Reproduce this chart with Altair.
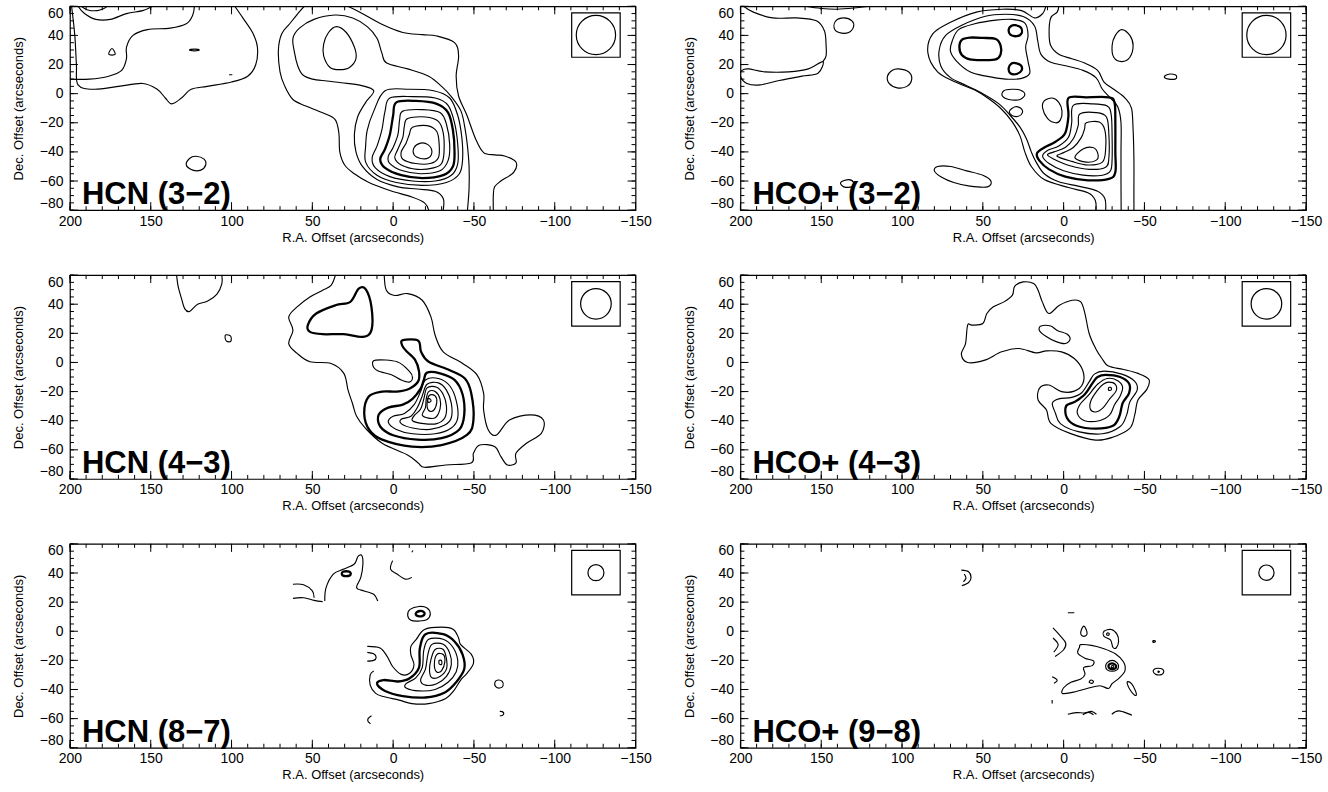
import altair as alt
import pandas as pd

# ---------------- axis ticks / labels ----------------
X_MAJOR = [200, 150, 100, 50, 0, -50, -100, -150]
X_MINOR = list(range(200, -151, -10))
Y_MAJOR = [60, 40, 20, 0, -20, -40, -60, -80]
Y_MINOR = list(range(60, -81, -5))

PANEL_NAMES = ["HCN (3−2)", "HCO+ (3−2)", "HCN (4−3)", "HCO+ (4−3)", "HCN (8−7)", "HCO+ (9−8)"]
BEAM_FWHM = [27, 27, 21, 21, 11, 10.5]          # arcsec
BEAM_CENTER = [-125.5, 40.25]                  # arcsec offsets
BEAM_BOX = [-110.5, -140.5, 25, 55.5]          # x1, x2, y1, y2 (arcsec)

# ---------------- HCN (3-2) contours (R.A., Dec. offsets) ----------------
HCN32_OPEN = {
    "a": [(199, 60), (197, 40), (196, 20), (195, 6), (185, 3), (170, 5), (155, 7), (146, 3), (141, -3), (137, -7),
          (131, -3), (125, 3), (115, 5), (100, 8), (90, 12), (85, 20), (84, 32), (87, 42), (93, 52), (98, 60)],
    "b": [(200, 10), (188, 10), (176, 12), (168, 16), (165, 24), (165, 32), (161, 40), (152, 44), (138, 45),
          (128, 48), (124, 54), (123, 60)],
    "c": [(195, 60), (191, 55), (184, 51), (175, 51), (165, 55), (155, 57), (149, 60)],
    "d": [(193, 60), (189, 57.5), (183, 57), (179, 58.5), (177, 60)],
    "dash": [(101.5, 13), (99.5, 13)],
    "e1": [(55, 60), (59, 55), (64, 48), (69, 41), (71, 30), (70, 15), (67, 5), (62, -4), (54, -8.5), (44, -13),
           (36, -17.6), (33.6, -27), (33, -40), (30, -49), (24, -55), (15, -61), (2, -66.5), (-11.6, -71),
           (-19.4, -75), (-22, -80)],
    "e2": [(28, 60), (20, 55.6), (7, 47.6), (-6, 42), (-18, 40.5), (-27, 39.6), (-38, 35), (-40.5, 26), (-39, 12),
           (-40.5, -1.6), (-45.7, -15), (-51, -31), (-56, -40.5), (-63, -42), (-69, -42.8), (-76, -47),
           (-74.6, -54), (-66.7, -60), (-62.8, -64), (-62, -70), (-62, -80)],
    "g": [(-31, -80), (-31, -72), (-26, -67), (-15, -65.5), (-3, -64), (10, -59), (19, -50), (23, -40), (24, -28),
          (22, -16), (17, -6), (12, 2), (20, 5.7), (32, 7.5), (41, 8.7), (50, 10), (56, 13), (59, 19), (61, 28),
          (62, 38), (58, 45), (49, 51), (36, 54), (25, 52), (16, 46), (10, 38), (7, 28), (4, 21), (-9, 17),
          (-22, 12), (-30, 5), (-36, -2), (-42, -12), (-44.5, -24), (-46, -36), (-47, -50), (-47, -65), (-46, -80)],
}
HCN32_CLOSED = {
    "tri": [(174, 31), (172, 27), (176, 27)],
    "tiny": [(126, 30), (123, 30.6), (120, 30), (123, 29.4)],
    "circ": [(122, -43), (117, -45), (116, -49), (119, -52.5), (124, -52.5), (128, -49), (126, -44.5)],
    "hole": [(35, 46), (29, 42), (24, 32), (23, 24), (27, 18), (33, 16.5), (39, 18), (43, 26), (43, 34), (40, 42)],
    "k1": [(5, 2), (-10, 3), (-25, 2), (-35, -3), (-40, -15), (-42.5, -30), (-43, -45), (-41, -55), (-33, -61),
           (-18, -63), (-2, -61), (10, -56), (17, -47), (17, -36), (16, -25), (12, -12)],
    "k2": [(2, -3), (-12, -2), (-26, -3), (-34, -8), (-38, -20), (-40, -35), (-40, -48), (-36, -56), (-26, -60),
           (-12, -60), (2, -57), (11, -51), (13, -44), (10, -36), (7, -25), (5, -12)],
    "k3": [(-2, -6), (-14, -5), (-27, -7), (-34, -13), (-37, -25), (-38, -40), (-37, -50), (-31, -56), (-18, -58),
           (-5, -56), (5, -51), (8, -45), (5, -38), (2, -28), (0, -15)],
    "k4": [(-6, -12), (-18, -11), (-29, -13), (-33, -21), (-35, -35), (-34, -46), (-29, -53), (-17, -55), (-6, -53),
           (2, -48), (3, -43), (0, -37), (-3, -28), (-4, -18)],
    "k5": [(-9, -17), (-20, -16), (-28, -19), (-31, -27), (-31.5, -40), (-30, -48), (-25, -51), (-15, -52),
           (-5, -49), (-1, -44), (-3, -38), (-6, -30), (-7, -22)],
    "k6": [(-12, -23), (-21, -22), (-27, -26), (-28.5, -35), (-28, -44), (-23, -48), (-14, -48), (-6, -45),
           (-5, -40), (-8, -34), (-10, -28)],
    "k7": [(-17, -34), (-21.5, -35), (-24, -39.5), (-22, -44), (-17, -44.5), (-13, -42), (-13, -37)],
}
HCN32_THICK = ["k3"]

# ---------------- HCO+ (3-2) contours ----------------
HCOP32_OPEN = {
    "a1": [(198, 60), (192, 56), (180, 52), (165, 52), (153, 50), (148, 43), (147, 33), (147, 26), (149, 22)],
    "a2": [(160, 60), (150, 58.5), (140, 58), (128, 59), (120, 60)],
    "m1": [(-20, -80), (-19.5, -73), (-15, -68), (-3, -64.5), (12, -59), (20, -50), (24, -40), (27, -29), (32, -19),
           (39, -10), (47, -3), (55, 2.5), (67, 8), (78, 15), (84, 28), (81, 41), (70, 49), (54, 56), (38, 58),
           (26, 57), (18, 52), (13, 55), (11, 60)],
    "m1b": [(3, 60), (4, 56), (8, 52), (9, 42), (8, 33), (3, 27), (-5, 24), (-13, 21), (-21, 16), (-25, 8),
            (-31, 3), (-38, -3), (-42, -10), (-43, -25), (-43.5, -45), (-43.5, -65), (-43.5, -80)],
    "m2": [(-26, -80), (-25.5, -72), (-21, -67), (-9, -63.5), (3, -60.5), (12, -55), (17, -47), (20, -40),
           (23, -31), (27, -23), (33, -15), (40, -7), (50, 0), (60, 5.5), (70, 11), (76, 19), (77, 30), (73, 40),
           (63, 47), (49, 53), (36, 54.5), (25, 53), (18, 46.5), (16, 36), (14, 27), (8, 21.5), (-2, 19),
           (-12, 16), (-20, 11), (-24, 3), (-29, -3), (-33.5, -9), (-35.5, -20), (-35.5, -40), (-35.5, -60),
           (-35.6, -80)],
}
HCOP32_CLOSED = {
    "a3": [(136, 52), (131, 50), (130, 46), (133, 42), (139, 42), (142, 45), (141, 50)],
    "lens": [(149, 22), (158, 17), (170, 15), (185, 15), (195, 17), (199, 16), (200, 12), (196, 7), (188, 6),
             (176, 9), (162, 12), (152, 14)],
    "blob": [(102, 17), (96, 15), (94, 10), (97, 5), (103, 4), (108, 7), (109, 12), (106, 16)],
    "elong": [(78, -50), (70, -50), (60, -53), (50, -56), (45, -60), (47, -64), (58, -63.5), (68, -61), (76, -57),
              (80, -53)],
    "lbl": [(133, -59), (130, -61), (131, -64), (136, -64), (138, -61)],
    "l3": [(69, 36), (65, 44), (55, 48), (42, 50.5), (32, 51), (24, 48.5), (22, 40), (23.5, 32), (22, 22), (21, 14),
           (26, 10.5), (36, 10), (48, 12), (58, 15), (66, 22), (70, 29)],
    "lobe": [(63, 37), (58, 38.5), (50, 38.3), (42, 37.5), (39, 33), (39, 27), (42, 23.5), (50, 23), (58, 23.5),
             (63, 26.5), (64.5, 32)],
    "s1": [(30, 47), (26.5, 45.5), (26, 41.5), (29, 39.5), (33, 40.5), (34, 44), (32.5, 46.5)],
    "s2": [(30, 21), (26.5, 19.5), (26, 16), (29, 13.5), (33, 14), (34, 17.5), (32.5, 20.5)],
    "t1": [(32, 3), (27, 2.5), (24, -0.5), (27, -4), (34, -4), (38, -1.5), (37, 2)],
    "t2": [(30, -9), (26.5, -10), (25.5, -13), (28, -15.5), (32, -15), (33.5, -12)],
    "t3": [(7, -3), (3, -6), (1, -12), (2, -18), (5, -20), (10, -17), (13, -10), (12, -5)],
    "ovr": [(-36, 44), (-32, 40), (-30, 33), (-31, 25), (-36, 22), (-41, 25), (-43, 33), (-41, 40)],
    "tnr": [(-66, 13.5), (-63, 12.5), (-62.5, 11), (-65, 10), (-69, 10), (-70, 11.5), (-69, 13)],
    "q1": [(-3, -3), (-14, -2.5), (-28, -2.5), (-31.5, -6), (-32, -20), (-32, -40), (-32, -54), (-28, -58.5),
           (-15, -59.5), (-1, -57), (9, -52), (15, -46), (16.5, -41), (12, -37), (5, -33), (-1, -27), (-3, -15)],
    "q2": [(-6, -8), (-18, -7), (-27, -8.5), (-29.5, -15), (-30, -30), (-30, -45), (-29, -53), (-24, -56),
           (-12, -56), (0, -53), (9, -48), (13, -43), (10, -39), (3, -36), (-3, -30), (-5, -20)],
    "q3": [(-10, -14), (-20, -13), (-26.5, -16), (-28, -28), (-28, -44), (-26, -50.5), (-16, -52), (-4, -49.5),
           (6, -45), (10, -42), (6, -40), (-1, -37), (-6, -31), (-9, -22)],
    "q4": [(-14, -20), (-22, -19.5), (-25.5, -25), (-26, -38), (-24, -47), (-15, -49), (-5, -46.5), (4, -43),
           (0, -40.5), (-6, -37), (-11, -30), (-13, -24)],
    "q5": [(-12, -38), (-18, -37), (-21, -40.5), (-20.5, -45.5), (-14, -47), (-7, -44)],
}
HCOP32_THICK = ["q1", "lobe", "s1", "s2"]

# ---------------- HCN (4-3) contours ----------------
HCN43_OPEN = {
    "tl": [(134, 60), (133, 52), (131, 44), (129, 37), (126, 35), (121, 40), (115, 42), (109, 47), (106, 54),
           (106, 60)],
    "out": [(35.7, 60), (38.4, 53), (43.6, 49.6), (51.5, 45), (59.4, 38.2), (64.6, 31.3), (62, 22.2), (64.6, 13),
            (59.4, 6.2), (51.5, 0.5), (38.4, -0.7), (30.5, -7.5), (27.9, -19), (25.2, -28), (22.6, -37),
            (17.3, -45), (6.8, -55.5), (-8.9, -63.5), (-15.5, -69), (-19.4, -72), (-32.6, -70.4), (-48.3, -69),
            (-49.7, -62.4), (-53.6, -56.7), (-62.8, -57.8), (-66.7, -64.7), (-70.7, -70.4), (-76, -69),
            (-76, -62.4), (-82.5, -55.5), (-91.7, -48.7), (-93, -39.5), (-85, -36), (-72, -39.5), (-64, -49.8),
            (-58.9, -46.4), (-56, -32.7), (-56, -21.3), (-52, -8.7), (-43, -0.7), (-31, 7.3), (-26, 18.7),
            (-23.4, 31.3), (-18, 42.7), (-9, 47.3), (-1, 46), (4.2, 49.6), (5.5, 60)],
}
HCN43_CLOSED = {
    "tiny": [(103.5, 19), (100.5, 18), (100.5, 14.5), (103, 14.5), (104, 17)],
    "blob": [(52.8, 25.6), (47.6, 33.6), (35.7, 39.3), (26.5, 41.6), (21.3, 50.7), (16.8, 50), (13.4, 38),
             (13.4, 22.2), (18.7, 17.6), (30.5, 19.4), (43.6, 19.4), (51.5, 21)],
    "t": [(-6, 15.3), (-15.5, 14.9), (-17.3, 7.3), (-22, 0.5), (-35, -5.3), (-44.4, -11), (-48.3, -21),
          (-49.7, -39.5), (-45.7, -49.8), (-30, -56.7), (-11.6, -57.8), (6.8, -53), (14.7, -46.4), (17.9, -35),
          (15.2, -23.5), (6.8, -20), (-2.4, -20), (-10, -18), (-15.5, -13), (-16, -6), (-13.5, 2), (-8, 8),
          (-5.5, 12)],
    "finger": [(10.8, 1.6), (-2.4, 0.5), (-10, -6), (-12, -10.5), (-10, -13.5), (-5, -12), (1, -8.5), (9.5, -5.7),
               (12.6, -1.8)],
    "p1": [(-21, -7), (-29, -7.5), (-38, -12), (-43, -22), (-44, -36), (-41, -46), (-30, -52), (-15, -53),
           (0, -50), (8, -44), (9, -36), (3, -31), (-6, -29), (-12, -25), (-17, -18), (-19, -12)],
    "p2": [(-20, -12), (-28, -11), (-35, -16), (-39, -26), (-40, -38), (-36, -45), (-26, -49), (-12, -49), (-2, -46),
           (3, -41), (0, -37), (-7, -35), (-13, -29), (-17, -20)],
    "p3": [(-21, -15), (-28, -14), (-33, -19), (-36, -28), (-36, -38), (-32, -43), (-23, -46), (-12, -45), (-5, -42),
           (-5, -39), (-11, -37), (-15, -31), (-18, -23)],
    "p4": [(-21, -17.5), (-27, -17), (-31, -22), (-33, -30), (-32, -38), (-27, -42), (-19, -42), (-12, -40),
           (-13, -36.5), (-17, -32), (-19, -25)],
    "p5": [(-22, -20), (-26, -20), (-29, -25), (-29, -32), (-26, -38), (-21, -38), (-18, -36), (-20, -31),
           (-20.5, -25)],
    "p6": [(-22.5, -22.5), (-26, -23), (-27, -27.5), (-25, -33), (-22, -33), (-21, -28)],
    "p7": [(-21.5, -25), (-23, -25.2), (-23.3, -26.8), (-21.7, -27.3)],
}
HCN43_THICK = ["blob", "t", "p1"]

# ---------------- HCO+ (4-3) contours ----------------
HCOP43_OPEN = {
    "none": [(500, 500), (501, 501)],
}
HCOP43_CLOSED = {
    "out": [(59.4, 25.6), (60.7, 13), (63.3, 5.7), (59.4, 0), (48.8, 1.6), (38.3, 7.3), (27.7, 9.6), (17.2, 6.6),
            (10.6, 8), (1.3, 7.3), (-6.6, 2.7), (-11.9, -5.7), (-11.9, -14.4), (-6.6, -19.7), (1.3, -20),
            (9.2, -15.5), (15, -17.8), (15.8, -25.8), (10.6, -32.7), (7.9, -41.8), (-4, -48.7), (-19.8, -53.3),
            (-30.3, -51.4), (-40.9, -45.3), (-44, -36), (-46, -25.8), (-51.5, -18.5), (-52.8, -11.7), (-46, -7.5),
            (-37, -4.8), (-27.7, -2.5), (-23.7, 2.7), (-19.8, 9.6), (-15.8, 19.9), (-13.2, 33.6), (-10.6, 41.6),
            (-5.3, 42.7), (2.6, 39.3), (9.2, 33.6), (13.2, 41.6), (15.8, 49.6), (18.5, 54.2), (25, 55.3),
            (30.3, 52.3), (31.7, 46.2), (36.9, 41.6), (43.5, 38.2), (47.5, 33.6), (50, 26.7), (56.7, 25.6)],
    "saus": [(14, 25), (8, 25), (4, 22), (-2, 19.5), (-4, 16), (-1, 13), (5, 14.5), (11, 18), (15, 22)],
    "n5": [(-25, -6), (-36, -8), (-44, -13), (-45.5, -19), (-41, -27), (-39, -36), (-35, -44), (-24, -49),
           (-9, -47.5), (2, -42), (5, -35), (7, -28), (3, -25), (-5, -24), (-11, -21), (-16, -13), (-19, -8)],
    "n4": [(-26, -8.5), (-35, -10), (-40.5, -14.5), (-40.5, -21), (-36.5, -28), (-34.5, -37), (-30.5, -43.5),
           (-20, -45.5), (-8, -43.5), (-2, -38), (-1.5, -30), (-7, -27), (-13, -22), (-18, -14), (-21, -10)],
    "n3": [(-27, -11), (-33.5, -12.5), (-36.5, -17), (-35, -23), (-31.5, -29), (-28.5, -36), (-22, -40), (-13, -40),
           (-8.5, -35), (-10, -29), (-15, -23), (-21, -15)],
    "n2": [(-28, -13.5), (-32, -15), (-32.5, -19.5), (-28.5, -25), (-24.5, -31), (-20, -34), (-16.5, -32),
           (-17, -26), (-21, -19), (-24.5, -15)],
    "n1": [(-28, -17.2), (-29.5, -17.4), (-29.3, -19), (-27.8, -19)],
}
HCOP43_THICK = ["n4"]

# ---------------- HCN (8-7) contours ----------------
HCN87_OPEN = {
    "arc1": [(62, 32.3), (55.4, 31.9), (50, 27.7), (48.9, 23)],
    "arc2": [(62, 22.6), (55.4, 23), (48.9, 21.2), (43.6, 20.3)],
    "w": [(42.3, 20.8), (41.5, 30), (37, 39.3), (30.5, 42.7), (24, 46.2), (21.8, 51.3), (19.4, 52), (18.7, 46.2),
          (20, 37), (22.6, 30), (17.9, 27.7), (12, 25.4), (9.5, 20.8)],
    "v": [(0.3, 48.5), (1.6, 42.7), (-2.4, 39.3), (-7.6, 35.8), (-11.6, 37)],
    "tick": [(-11.6, 54.3), (-12.2, 55.5)],
    "out": [(16, -10.4), (8.1, -11.5), (3.7, -17.3), (0.3, -24.2), (-5, -29.6), (-10.2, -28.9), (-12.9, -23),
            (-11, -16.2), (-11, -10.4), (-14.2, -5.8), (-19.4, 1.2), (-30, 2.8), (-37.3, 1.2), (-40.5, -4.6),
            (-41.8, -9.2), (-48.3, -15.7), (-49.7, -22), (-45.7, -28.9), (-41.8, -33.5), (-37.8, -40.4),
            (-32.6, -46.2), (-22, -49.7), (-11.6, -49.7), (-3.7, -47.3), (5.5, -45), (10.8, -42.7), (14.2, -37),
            (14.2, -30), (12, -27.3)],
    "hook": [(16, -14.5), (12, -15.5), (10.5, -18), (12, -20), (16, -20.5)],
    "csm": [(-66, -55), (-67.5, -55.2), (-68.5, -56.5), (-67.5, -57.8), (-66, -58)],
    "arcb": [(13.4, -58), (15.5, -60), (15.5, -62), (14, -63.5)],
}
HCN87_CLOSED = {
    "sm": [(29, 41.2), (27, 40.8), (26.2, 39.5), (27, 38.2), (29, 37.8), (31, 38.2), (31.8, 39.5), (31, 40.8)],
    "l11": [(-16, 17), (-10.5, 15), (-9, 11), (-11, 7.5), (-16, 7), (-21, 8), (-23, 12), (-21, 16)],
    "l11b": [(-16.5, 13.9), (-14.5, 13), (-14, 11.5), (-15.5, 10.4), (-18, 10.4), (-19.5, 12), (-18.5, 13.6)],
    "smr": [(-65, -33.5), (-63, -35), (-63.5, -38), (-66, -39), (-68, -37.5), (-67.5, -34.5)],
    "r1": [(-20, -2), (-31, -2), (-38, -7), (-43, -16), (-44, -26), (-39, -35), (-32, -42), (-20, -45.5),
           (-6, -44.5), (5, -41), (10, -36), (6, -33.5), (-3, -34.5), (-10, -32.5), (-16, -25), (-16.5, -12)],
    "r2": [(-22, -5.5), (-31, -5.5), (-37, -11), (-40, -20), (-39, -28), (-34, -35), (-26, -40), (-16, -41),
           (-8, -39), (-8, -36), (-14, -32), (-18, -25), (-19, -13)],
    "r3": [(-24, -9), (-31, -9), (-35, -15), (-36, -23), (-33, -31), (-27, -36), (-20, -37), (-17, -33.5),
           (-20, -26), (-21.5, -16)],
    "r4": [(-26, -12.5), (-31, -12.5), (-33, -19), (-33, -26), (-29, -31), (-24, -32), (-22.5, -27), (-23.5, -19)],
    "r5": [(-27, -16), (-31, -16), (-32, -21), (-30, -27), (-27, -28), (-25.5, -23)],
    "r6": [(-28.5, -20), (-30, -20.3), (-30, -22.7), (-28.5, -22.5)],
}
HCN87_THICK = ["sm", "l11b", "r1"]

# ---------------- HCO+ (9-8) contours ----------------
HCOP98_OPEN = {
    "arco": [(63.3, 42), (58.8, 40.9), (57.3, 37), (58.8, 33.5), (63, 31.2)],
    "arci": [(61.5, 39.3), (60.4, 36.5), (62, 34)],
    "dash": [(-2.6, 12.7), (-6.6, 12.7)],
    "lo": [(6.6, 2.3), (1.8, -3.5), (-1.3, -8.1), (0, -12.7), (5.3, -17.3)],
    "li": [(6.6, -4.6), (3.4, -9.2), (6.1, -14.3)],
    "sarc": [(7.1, -31.2), (4, -33.5), (6, -35.8)],
    "tdash": [(7.1, -47.3), (7.1, -49.7)],
    "b1": [(-2.6, -57), (-7.9, -55.9), (-13.2, -56.1), (-17.2, -55), (-20.3, -57)],
    "b2": [(-11.9, -57.3), (-15.3, -55.7), (-18.5, -57.3)],
    "b3": [(-29.8, -57), (-34.3, -54.7), (-42.2, -57.7)],
}
HCOP98_CLOSED = {
    "main": [(-10.6, -9.2), (-17.2, -9.7), (-25, -12), (-32, -15.5), (-37, -21), (-38, -27), (-34.5, -32),
             (-30, -36), (-27.7, -39.3), (-22.4, -37.4), (-14.5, -39.3), (-5.3, -42), (0.8, -42.7), (0, -38.8),
             (-4.5, -35.1), (-10.6, -32.8), (-13.2, -29.6), (-12.4, -24.9), (-17.7, -23.6), (-18.5, -20.3),
             (-13.2, -18.5), (-8.7, -15), (-9.8, -11)],
    "pk1": [(-30, -20), (-33, -21.5), (-34, -24), (-33, -26.5), (-30, -27.5), (-27, -26.5), (-26, -24), (-27, -21.5)],
    "pk2": [(-30, -22), (-32, -23), (-32.5, -24.5), (-31.5, -25.8), (-29.5, -26), (-28, -25), (-28, -23)],
    "pk3": [(-30, -23.5), (-31, -24), (-30.5, -25), (-29.5, -24.7)],
    "sm1": [(-17, -33.5), (-18.5, -34.5), (-17.5, -35.8), (-15.8, -35)],
    "tear": [(-12.5, 3.5), (-11, 1), (-10.6, -2), (-12.5, -3.5), (-14.5, -2), (-14, 1)],
    "comma": [(-25, 0), (-29.5, 1.2), (-33, -2), (-34, -7), (-32.5, -11.5), (-30.5, -11), (-29, -6), (-25, -3.5)],
    "commai": [(-27, -1.2), (-28.2, -1.6), (-27.8, -2.8), (-26.6, -2.4)],
    "dotr": [(-55.6, -6.8), (-56.5, -7), (-55.6, -7.3)],
    "loopr": [(-58.5, -25.4), (-61, -26), (-62, -27.7), (-60.5, -29.8), (-57, -29.6), (-55.4, -27.5), (-56.5, -25.8)],
    "loopri": [(-58.5, -27.3), (-59.3, -27.8), (-58.5, -28.2)],
    "slant": [(-39.6, -34.6), (-42, -36), (-44.5, -41), (-44.9, -43.9), (-43.5, -43.5), (-41, -40), (-39.5, -36.5)],
}
HCOP98_THICK = ["pk2", "dotr"]

PANELS = [
    (HCN32_OPEN, HCN32_CLOSED, HCN32_THICK),
    (HCOP32_OPEN, HCOP32_CLOSED, HCOP32_THICK),
    (HCN43_OPEN, HCN43_CLOSED, HCN43_THICK),
    (HCOP43_OPEN, HCOP43_CLOSED, HCOP43_THICK),
    (HCN87_OPEN, HCN87_CLOSED, HCN87_THICK),
    (HCOP98_OPEN, HCOP98_CLOSED, HCOP98_THICK),
]

# ---------------- chart construction ----------------
W, H = 566, 204
PX_PER_ARCSEC = H / 140.0
FONT = "Liberation Sans"

XS = alt.Scale(domain=[200, -150], nice=False, zero=False)
YS = alt.Scale(domain=[-80, 60], nice=False, zero=False)

XAXIS = alt.Axis(values=X_MAJOR, title="R.A. Offset (arcseconds)", grid=False, ticks=False, domain=False,
                 labelFlush=False, labelOverlap=False, labelPadding=4, format="d",
                 minExtent=17, maxExtent=17, titlePadding=4)
YAXIS = alt.Axis(values=Y_MAJOR, title="Dec. Offset (arcseconds)", grid=False, ticks=False, domain=False,
                 labelFlush=True, labelOverlap=False, labelPadding=7, format="d",
                 minExtent=33, maxExtent=33, titlePadding=11)


def X(field="x"):
    return alt.X(f"{field}:Q", scale=XS, axis=XAXIS)


def Y(field="y"):
    return alt.Y(f"{field}:Q", scale=YS, axis=YAXIS)


def contour_df(contours, thick):
    rows = []
    for name, pts in contours.items():
        for i, (x, y) in enumerate(pts):
            rows.append({"c": name, "i": i, "x": x, "y": y,
                         "kind": "thick" if name in thick else "thin"})
    return pd.DataFrame(rows)


SW = alt.StrokeWidth("kind:N", scale=alt.Scale(domain=["thin", "thick"], range=[1.15, 2.3]), legend=None)


def xticks(vals, length, top):
    y0 = 0 if top else H
    y1 = length if top else H - length
    return alt.Chart(pd.DataFrame({"x": vals})).mark_rule(color="black", strokeWidth=1).encode(
        x=X(), y=alt.value(y0), y2=alt.value(y1))


def yticks(vals, length, right):
    x0 = W if right else 0
    x1 = W - length if right else length
    return alt.Chart(pd.DataFrame({"y": vals})).mark_rule(color="black", strokeWidth=1).encode(
        y=Y(), x=alt.value(x0), x2=alt.value(x1))


def panel(k):
    open_c, closed_c, thick = PANELS[k]
    closed = alt.Chart(contour_df(closed_c, thick)).mark_line(
        interpolate="cardinal-closed", color="black", clip=True).encode(
        x=X(), y=Y(), detail="c:N", order="i:Q", strokeWidth=SW)
    opened = alt.Chart(contour_df(open_c, thick)).mark_line(
        interpolate="cardinal", color="black", clip=True).encode(
        x=X(), y=Y(), detail="c:N", order="i:Q", strokeWidth=SW)
    box = alt.Chart(pd.DataFrame({"x": [BEAM_BOX[0]], "x2": [BEAM_BOX[1]],
                                  "y": [BEAM_BOX[2]], "y2": [BEAM_BOX[3]]})).mark_rect(
        fill="white", fillOpacity=0, stroke="black", strokeWidth=1.2).encode(
        x=X(), x2="x2:Q", y=Y(), y2="y2:Q")
    d = BEAM_FWHM[k] * PX_PER_ARCSEC
    beam = alt.Chart(pd.DataFrame({"x": [BEAM_CENTER[0]], "y": [BEAM_CENTER[1]]})).mark_point(
        shape="circle", filled=False, color="black", strokeWidth=1.2, opacity=1, size=d * d).encode(
        x=X(), y=Y())
    label = alt.Chart(pd.DataFrame({"t": [PANEL_NAMES[k]]})).mark_text(
        align="left", baseline="alphabetic", font=FONT, fontSize=31, fontWeight="bold", color="black").encode(
        text="t:N", x=alt.value(12), y=alt.value(H - 6))
    layers = [closed, opened,
              xticks(X_MINOR, 4, False), xticks(X_MAJOR, 8, False),
              xticks(X_MINOR, 4, True), xticks(X_MAJOR, 8, True),
              yticks(Y_MINOR, 4, False), yticks(Y_MAJOR, 8, False),
              yticks(Y_MINOR, 4, True), yticks(Y_MAJOR, 8, True),
              box, beam, label]
    return alt.layer(*layers).properties(width=W, height=H)


chart = alt.concat(*[panel(k) for k in range(6)], columns=2,
                   spacing={"row": 65, "column": 105}, bounds="flush").properties(
    padding={"left": 12, "top": 4, "right": 5, "bottom": 5}
).configure_view(stroke="black", strokeWidth=1.2).configure_axis(
    labelFont=FONT, labelFontSize=14, labelColor="black",
    titleFont=FONT, titleFontSize=13, titleFontWeight="normal", titleColor="black")

chart.save("out.html", embed_options={"renderer": "svg", "actions": False})
